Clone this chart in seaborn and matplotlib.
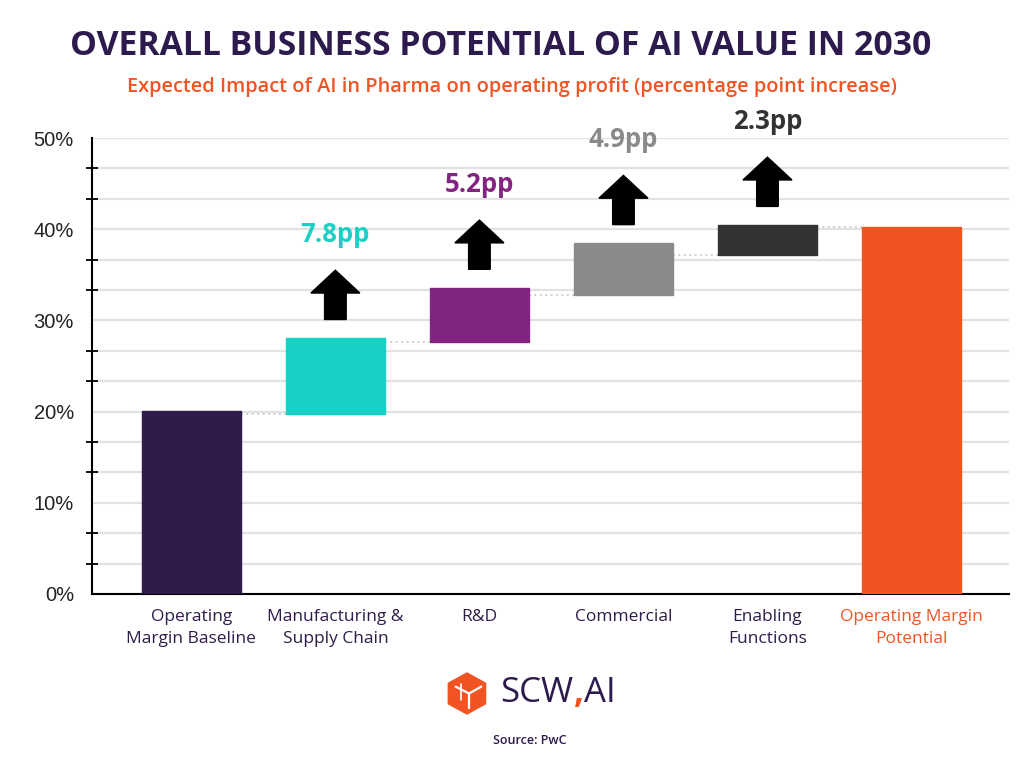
import numpy as np
import pandas as pd
import matplotlib
matplotlib.use("Agg")
import matplotlib.pyplot as plt
import seaborn as sns
from matplotlib.ticker import MultipleLocator, FuncFormatter
from matplotlib.patches import RegularPolygon
from matplotlib.offsetbox import TextArea, HPacker, AnnotationBbox

"""Waterfall of AI impact on pharma operating margin"""

# data
categories = [
    "Operating\nMargin Baseline",
    "Manufacturing &\nSupply Chain",
    "R&D",
    "Commercial",
    "Enabling\nFunctions",
    "Operating Margin\nPotential",
]
bar_bottoms = [0.0, 19.7, 27.6, 32.8, 37.2, 0.0]
bar_tops = [20.1, 28.1, 33.6, 38.5, 40.5, 40.2]
uplift_labels = [None, "7.8pp", "5.2pp", "4.9pp", "2.3pp", None]

bar_colors = ["#2f1c4a", "#17d1c6", "#822581", "#8a8a8a", "#333333", "#f05423"]
label_colors = ["#2f1c4a", "#1ccfc4", "#822581", "#8a8a8a", "#333333", "#f05423"]
tick_colors = ["#2f1c4a"] * 5 + ["#f05423"]

DARK = "#2d1b4e"
ORANGE = "#f05423"

sns.set_theme(style="white")
plt.rcParams["font.family"] = ["Open Sans", "DejaVu Sans"]

fig = plt.figure(figsize=(10.24, 7.68), dpi=100)
ax = fig.add_axes([0.0898, 0.2266, 0.896, 0.5937])

df = pd.DataFrame({
    "category": categories,
    "height": np.array(bar_tops) - np.array(bar_bottoms),
})
sns.barplot(data=df, x="category", y="height", bottom=bar_bottoms,
            color="#888888", width=0.69, errorbar=None, saturation=1,
            ax=ax, zorder=3)
for patch, c in zip(ax.patches, bar_colors):
    patch.set_facecolor(c)
    patch.set_edgecolor(c)

# dotted connectors between bars
for i in range(len(categories) - 1):
    nxt = i + 1
    level = bar_bottoms[nxt] if bar_bottoms[nxt] > 0 else bar_tops[nxt]
    ax.plot([i + 0.345, nxt - 0.345], [level, level], color="#c8c8c8",
            lw=1.3, ls=(0, (1, 2)), zorder=2)

# arrows and uplift labels
for i, lab in enumerate(uplift_labels):
    if lab is None:
        continue
    top = bar_tops[i]
    ax.arrow(i, top + 2.0, 0, 5.4, width=0.15, head_width=0.34,
             head_length=2.5, length_includes_head=True, color="black",
             clip_on=False, zorder=4)
    ax.text(i, top + 11.3, lab, ha="center", va="center", fontsize=18.5,
            fontweight="bold", color=label_colors[i], clip_on=False)

ax.set_xlim(-0.69, 5.68)
ax.set_ylim(0, 50)
ax.yaxis.set_major_locator(MultipleLocator(10))
ax.yaxis.set_minor_locator(MultipleLocator(10 / 3))
ax.yaxis.set_major_formatter(FuncFormatter(lambda v, p: f"{v:.0f}%"))
ax.grid(which="both", axis="y", color="#e2e2e2", lw=1.6, zorder=0)
ax.set_axisbelow(True)

ax.tick_params(axis="y", which="major", direction="inout", length=16,
               width=1.3, color="black", pad=5, labelsize=14.5,
               labelcolor="#222222")
ax.tick_params(axis="y", which="minor", direction="inout", length=8,
               width=1.3, color="black", left=True)
for t in ax.get_yticklabels():
    t.set_family(["Liberation Sans", "DejaVu Sans"])

ax.tick_params(axis="x", length=0, pad=11)
ax.set_xticks(range(len(categories)))
ax.set_xticklabels(categories, fontsize=12.5, linespacing=1.5, va="top")
for t, c in zip(ax.get_xticklabels(), tick_colors):
    t.set_color(c)

for s in ["top", "right"]:
    ax.spines[s].set_visible(False)
for s in ["left", "bottom"]:
    ax.spines[s].set_color("black")
    ax.spines[s].set_linewidth(1.5)
ax.set_xlabel("")
ax.set_ylabel("")

fig.text(0.489, 0.94, "OVERALL BUSINESS POTENTIAL OF AI VALUE IN 2030",
         ha="center", va="center", fontsize=24.3, fontweight="bold",
         color=DARK)
fig.text(0.5, 0.887,
         "Expected Impact of AI in Pharma on operating profit "
         "(percentage point increase)",
         ha="center", va="center", fontsize=14.4, fontweight="semibold",
         color=ORANGE)

# logo
icon = fig.add_axes([0.436, 0.069, 0.04, 0.056])
icon.set_xlim(-1, 1)
icon.set_ylim(-1.1, 1.1)
icon.axis("off")
icon.add_patch(RegularPolygon((0, 0), numVertices=6, radius=1.05,
                              orientation=0, color=ORANGE))
icon.plot([-0.55, 0.1, 0.1], [0.35, 0.0, -0.75], color="white", lw=1.6)
icon.plot([0.1, 0.7], [0.0, 0.35], color="white", lw=1.6)
icon.plot([-0.3, -0.3], [0.5, -0.35], color="white", lw=1.2)

logo = HPacker(children=[
    TextArea("SCW", textprops=dict(color=DARK, fontsize=25, fontweight="medium")),
    TextArea(",", textprops=dict(color=ORANGE, fontsize=25, fontweight="bold")),
    TextArea("AI", textprops=dict(color=DARK, fontsize=25, fontweight="medium")),
], pad=0, sep=0, align="baseline")
fig.add_artist(AnnotationBbox(logo, (0.545, 0.098), xycoords="figure fraction",
                              frameon=False, box_alignment=(0.5, 0.5)))

fig.text(0.517, 0.036, "Source: PwC", ha="center", va="center", fontsize=9,
         fontweight="semibold", color=DARK)

fig.savefig("out.png", dpi=100, facecolor="white")
